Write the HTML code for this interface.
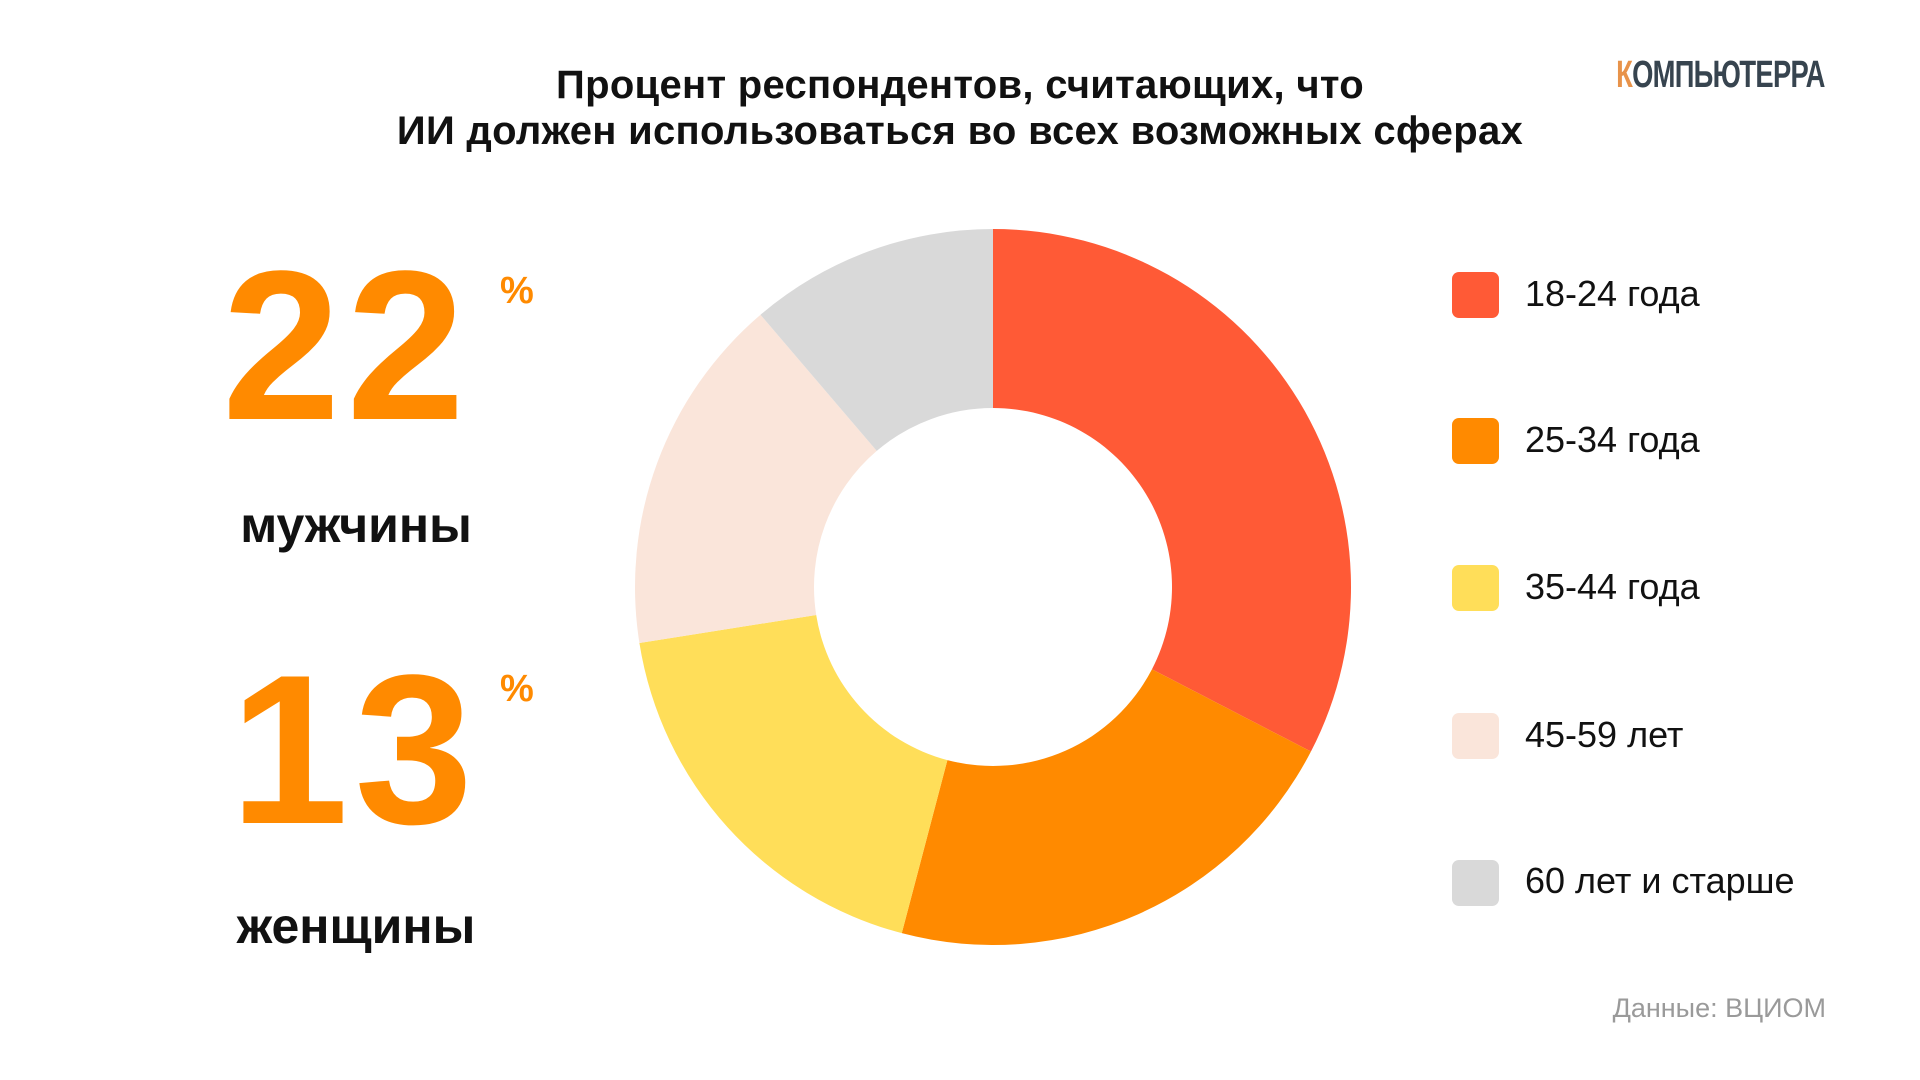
<!DOCTYPE html>
<html><head><meta charset="utf-8"><style>
html,body{margin:0;padding:0;background:#fff;}
body{width:1920px;height:1080px;position:relative;overflow:hidden;font-family:"Liberation Sans",sans-serif;color:#111;}
.t{position:absolute;white-space:nowrap;}
.title{left:0;width:1920px;text-align:center;font-weight:bold;font-size:40px;line-height:46px;top:62px;letter-spacing:0.3px;}
.big{font-weight:bold;font-size:213px;color:#FF8A00;line-height:1;letter-spacing:6px;}
.pct{font-weight:bold;font-size:38px;color:#FF8A00;}
.lab{font-weight:bold;font-size:50px;left:0;text-align:center;width:712px;}
.leg{font-size:36px;left:1525px;}
.sq{position:absolute;left:1452px;width:47px;height:46px;border-radius:7px;}
</style></head><body>
<div class="t title">Процент респондентов, считающих, что<br>ИИ должен использоваться во всех возможных сферах</div>
<div class="t" style="right:95px;top:54px;font-weight:bold;font-size:38px;color:#37444f;transform:scaleX(0.72);transform-origin:right top;letter-spacing:-1px;"><span style="color:#E8934A">К</span>ОМПЬЮТЕРРА</div>

<div class="t big" style="left:222px;top:240px;">22</div>
<div class="t pct" style="left:500px;top:270px;">%</div>
<div class="t lab" style="top:496px;">мужчины</div>
<div class="t big" style="left:230px;top:644px;">13</div>
<div class="t pct" style="left:500px;top:668px;">%</div>
<div class="t lab" style="top:897px;">женщины</div>

<svg style="position:absolute;left:0;top:0" width="1920" height="1080">
<g transform="translate(993,587)" id="d"></g>
</svg>
<script>
var cols=["#FF5A36","#FF8A00","#FFDE59","#FAE5DA","#D9D9D9"];
var b=[0,0.326,0.541,0.725,0.8875,1];
var R=358,r=179,g=document.getElementById('d'),s="";
function p(f,rr){var a=f*2*Math.PI;return [rr*Math.sin(a),-rr*Math.cos(a)];}
for(var i=0;i<5;i++){var a0=b[i],a1=b[i+1],L=(a1-a0)>0.5?1:0;
var A=p(a0,R),B=p(a1,R),C=p(a1,r),D=p(a0,r);
s+='<path fill="'+cols[i]+'" d="M'+A+' A'+R+' '+R+' 0 '+L+' 1 '+B+' L'+C+' A'+r+' '+r+' 0 '+L+' 0 '+D+'Z"/>';}
g.innerHTML=s;
</script>

<div class="sq" style="top:272px;background:#FF5A36"></div>
<div class="t leg" style="top:273px;">18-24 года</div>
<div class="sq" style="top:418px;background:#FF8A00"></div>
<div class="t leg" style="top:419px;">25-34 года</div>
<div class="sq" style="top:565px;background:#FFDE59"></div>
<div class="t leg" style="top:566px;">35-44 года</div>
<div class="sq" style="top:713px;background:#FAE5DA"></div>
<div class="t leg" style="top:714px;">45-59 лет</div>
<div class="sq" style="top:860px;background:#D9D9D9"></div>
<div class="t leg" style="top:860px;">60 лет и старше</div>

<div class="t" style="right:94px;top:993px;font-size:27px;color:#9a9a9a;">Данные: ВЦИОМ</div>
</body></html>
